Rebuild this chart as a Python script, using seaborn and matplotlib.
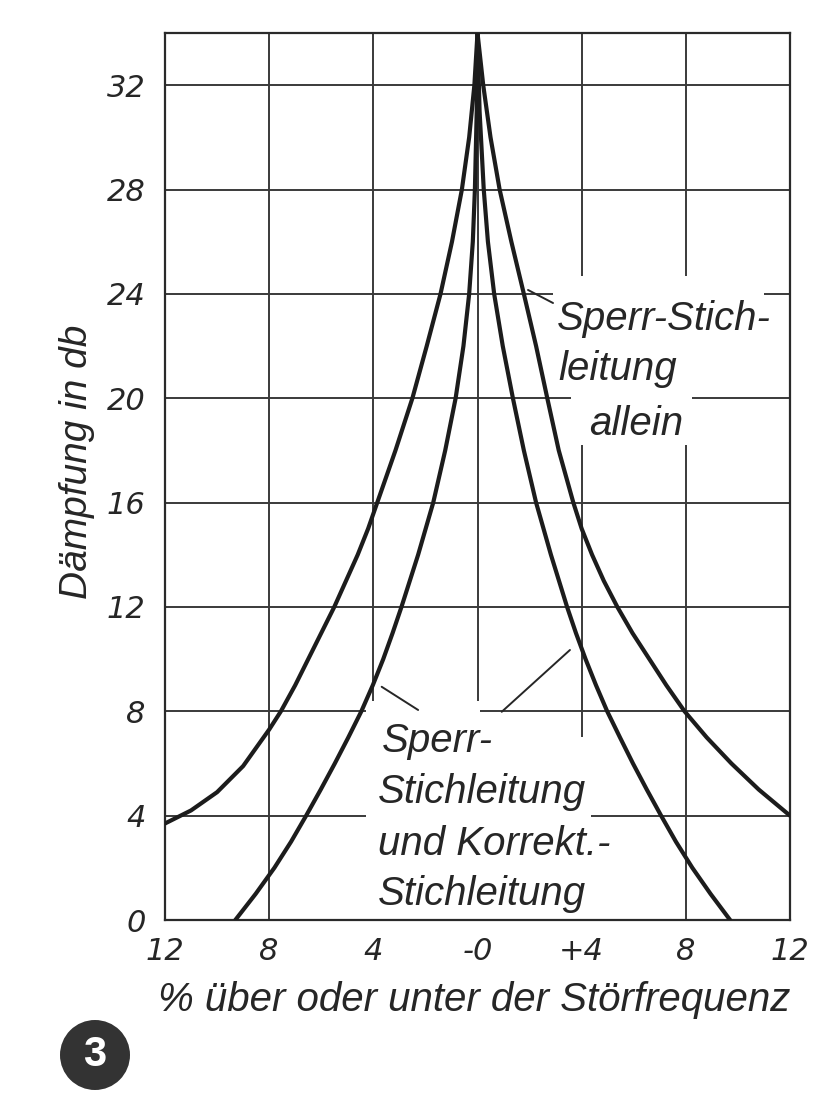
import numpy as np
import pandas as pd
import matplotlib
matplotlib.use("Agg")
import matplotlib.pyplot as plt
from matplotlib.patches import Circle, Rectangle
import seaborn as sns

# ---- data ----
outer_left_x = [-12, -11, -10, -9, -8, -7.55, -7.0, -6.5, -6.0, -5.5, -5.05, -4.6, -4.2, -3.85,
                -3.15, -2.5, -1.95, -1.42, -0.98, -0.6, -0.32, -0.12, 0]
outer_left_y = [3.7, 4.2, 4.9, 5.9, 7.3, 8, 9, 10, 11, 12, 13, 14, 15, 16,
                18, 20, 22, 24, 26, 28, 30, 32, 34]
outer_right_x = [0, 0.22, 0.5, 0.85, 1.3, 1.78, 2.25, 2.68, 3.12, 3.68, 4.0, 4.4, 4.85, 5.37,
                 5.95, 6.6, 7.25, 7.95, 8.8, 9.75, 10.8, 12.0]
outer_right_y = [34, 32, 30, 28, 26, 24, 22, 20, 18, 16, 15, 14, 13, 12,
                 11, 10, 9, 8, 7, 6, 5, 4]
inner_left_x = [-9.3, -8.52, -7.8, -7.16, -6.58, -6.02, -5.48, -4.96, -4.46, -4.02, -3.62,
                -3.26, -2.92, -2.28, -1.7, -1.24, -0.84, -0.54, -0.32, -0.18, -0.1, -0.03, 0]
inner_left_y = [0, 1, 2, 3, 4, 5, 6, 7, 8, 9, 10,
                11, 12, 14, 16, 18, 20, 22, 24, 26, 28, 31, 34]
inner_right_x = [0, 0.08, 0.24, 0.4, 0.64, 0.97, 1.36, 1.78, 2.25, 2.82, 3.44, 3.78, 4.15,
                 4.55, 4.98, 5.47, 5.97, 6.5, 7.05, 7.62, 8.25, 8.95, 9.7]
inner_right_y = [34, 31, 28, 26, 24, 22, 20, 18, 16, 14, 12, 11, 10,
                 9, 8, 7, 6, 5, 4, 3, 2, 1, 0]

x_ticks = [-12, -8, -4, 0, 4, 8, 12]
x_tick_labels = ["12", "8", "4", "-0", "+4", "8", "12"]
y_ticks = [0, 4, 8, 12, 16, 20, 24, 28, 32]
y_tick_labels = ["0", "4", "8", "12", "16", "20", "24", "28", "32"]

label_outer = ["Sperr-Stich-", "leitung", "allein"]
label_inner = ["Sperr-", "Stichleitung", "und Korrekt.-", "Stichleitung"]
x_label = "% über oder unter der Störfrequenz"
y_label = "Dämpfung in db"

frames = []
for name, xs, ys in [("outer_left", outer_left_x, outer_left_y),
                     ("outer_right", outer_right_x, outer_right_y),
                     ("inner_left", inner_left_x, inner_left_y),
                     ("inner_right", inner_right_x, inner_right_y)]:
    frames.append(pd.DataFrame({"x": xs, "y": ys, "branch": name}))
df = pd.concat(frames, ignore_index=True)

# ---- style ----
sns.set_theme(style="white")
plt.rcParams["font.family"] = ["Liberation Sans", "DejaVu Sans"]
plt.rcParams["axes.axisbelow"] = True

ink = "#262626"
tick_font = dict(family=["Liberation Sans Narrow", "DejaVu Sans Condensed", "DejaVu Sans"],
                 style="italic", size=22, color=ink)
text_font = dict(family=["Liberation Sans", "DejaVu Sans"], style="italic", size=29, color=ink)

fig = plt.figure(figsize=(8.13, 11.09), dpi=100)
ax = fig.add_axes([165 / 813, 1 - 920 / 1109, (790 - 165) / 813, (920 - 33) / 1109])

sns.lineplot(data=df, x="x", y="y", units="branch", estimator=None, sort=False,
             color="#1c1c1c", linewidth=3.0, ax=ax, legend=False, zorder=3)

ax.set_xlim(-12, 12)
ax.set_ylim(0, 34)
ax.set_xticks(x_ticks)
ax.set_yticks(y_ticks)
ax.set_xticklabels(x_tick_labels, **tick_font)
ax.set_yticklabels(y_tick_labels, **tick_font)
ax.tick_params(axis="both", length=0)
ax.tick_params(axis="x", pad=12)
ax.tick_params(axis="y", pad=14)
ax.grid(True, color="#3a3a3a", linewidth=1.4)
for s in ax.spines.values():
    s.set_color("#2a2a2a")
    s.set_linewidth(1.6)
ax.set_xlabel("")
ax.set_ylabel("")

# white masks behind labels (gridlines interrupted in the original)
ax.add_patch(Rectangle((2.9, 20.6), 8.1, 4.1, facecolor="white", edgecolor="none", zorder=1))
ax.add_patch(Rectangle((3.6, 18.2), 4.65, 2.5, facecolor="white", edgecolor="none", zorder=1))
ax.add_patch(Rectangle((-4.3, 0.05), 4.4, 8.35, facecolor="white", edgecolor="none", zorder=1))
ax.add_patch(Rectangle((0.1, 0.05), 4.25, 6.95, facecolor="white", edgecolor="none", zorder=1))

# annotation texts
ax.text(3.05, 22.6, label_outer[0], ha="left", va="baseline", zorder=4, **text_font)
ax.text(3.1, 20.7, label_outer[1], ha="left", va="baseline", zorder=4, **text_font)
ax.text(4.28, 18.6, label_outer[2], ha="left", va="baseline", zorder=4, **text_font)

ax.text(-3.67, 6.44, label_inner[0], ha="left", va="baseline", zorder=4, **text_font)
ax.text(-3.82, 4.48, label_inner[1], ha="left", va="baseline", zorder=4, **text_font)
ax.text(-3.82, 2.49, label_inner[2], ha="left", va="baseline", zorder=4, **text_font)
ax.text(-3.82, 0.57, label_inner[3], ha="left", va="baseline", zorder=4, **text_font)

# leader lines
ax.plot([1.94, 2.9], [24.15, 23.65], color=ink, lw=1.4, zorder=4)
ax.plot([-3.68, -2.28], [8.94, 8.05], color=ink, lw=1.4, zorder=4)
ax.plot([0.93, 3.55], [7.98, 10.35], color=ink, lw=1.4, zorder=4)

# axis titles
fig.text(474 / 813, 1 - 1000 / 1109, x_label, ha="center", va="center", **text_font)
fig.text(77 / 813, 1 - 462 / 1109, y_label, ha="center", va="center", rotation=90,
         **{**text_font, "size": 28})

# circled figure number (drawn in inches so it stays round)
circ = Circle((0.95, (1109 - 1055) / 100), 0.35, transform=fig.dpi_scale_trans,
              facecolor="#333333", edgecolor="none")
fig.patches.append(circ)
fig.text(95 / 813, 1 - 1055 / 1109, "3", ha="center", va="center", color="white",
         fontsize=30, fontweight="bold", family=["Liberation Sans", "DejaVu Sans"])

fig.savefig("out.png", dpi=100, facecolor="white")
